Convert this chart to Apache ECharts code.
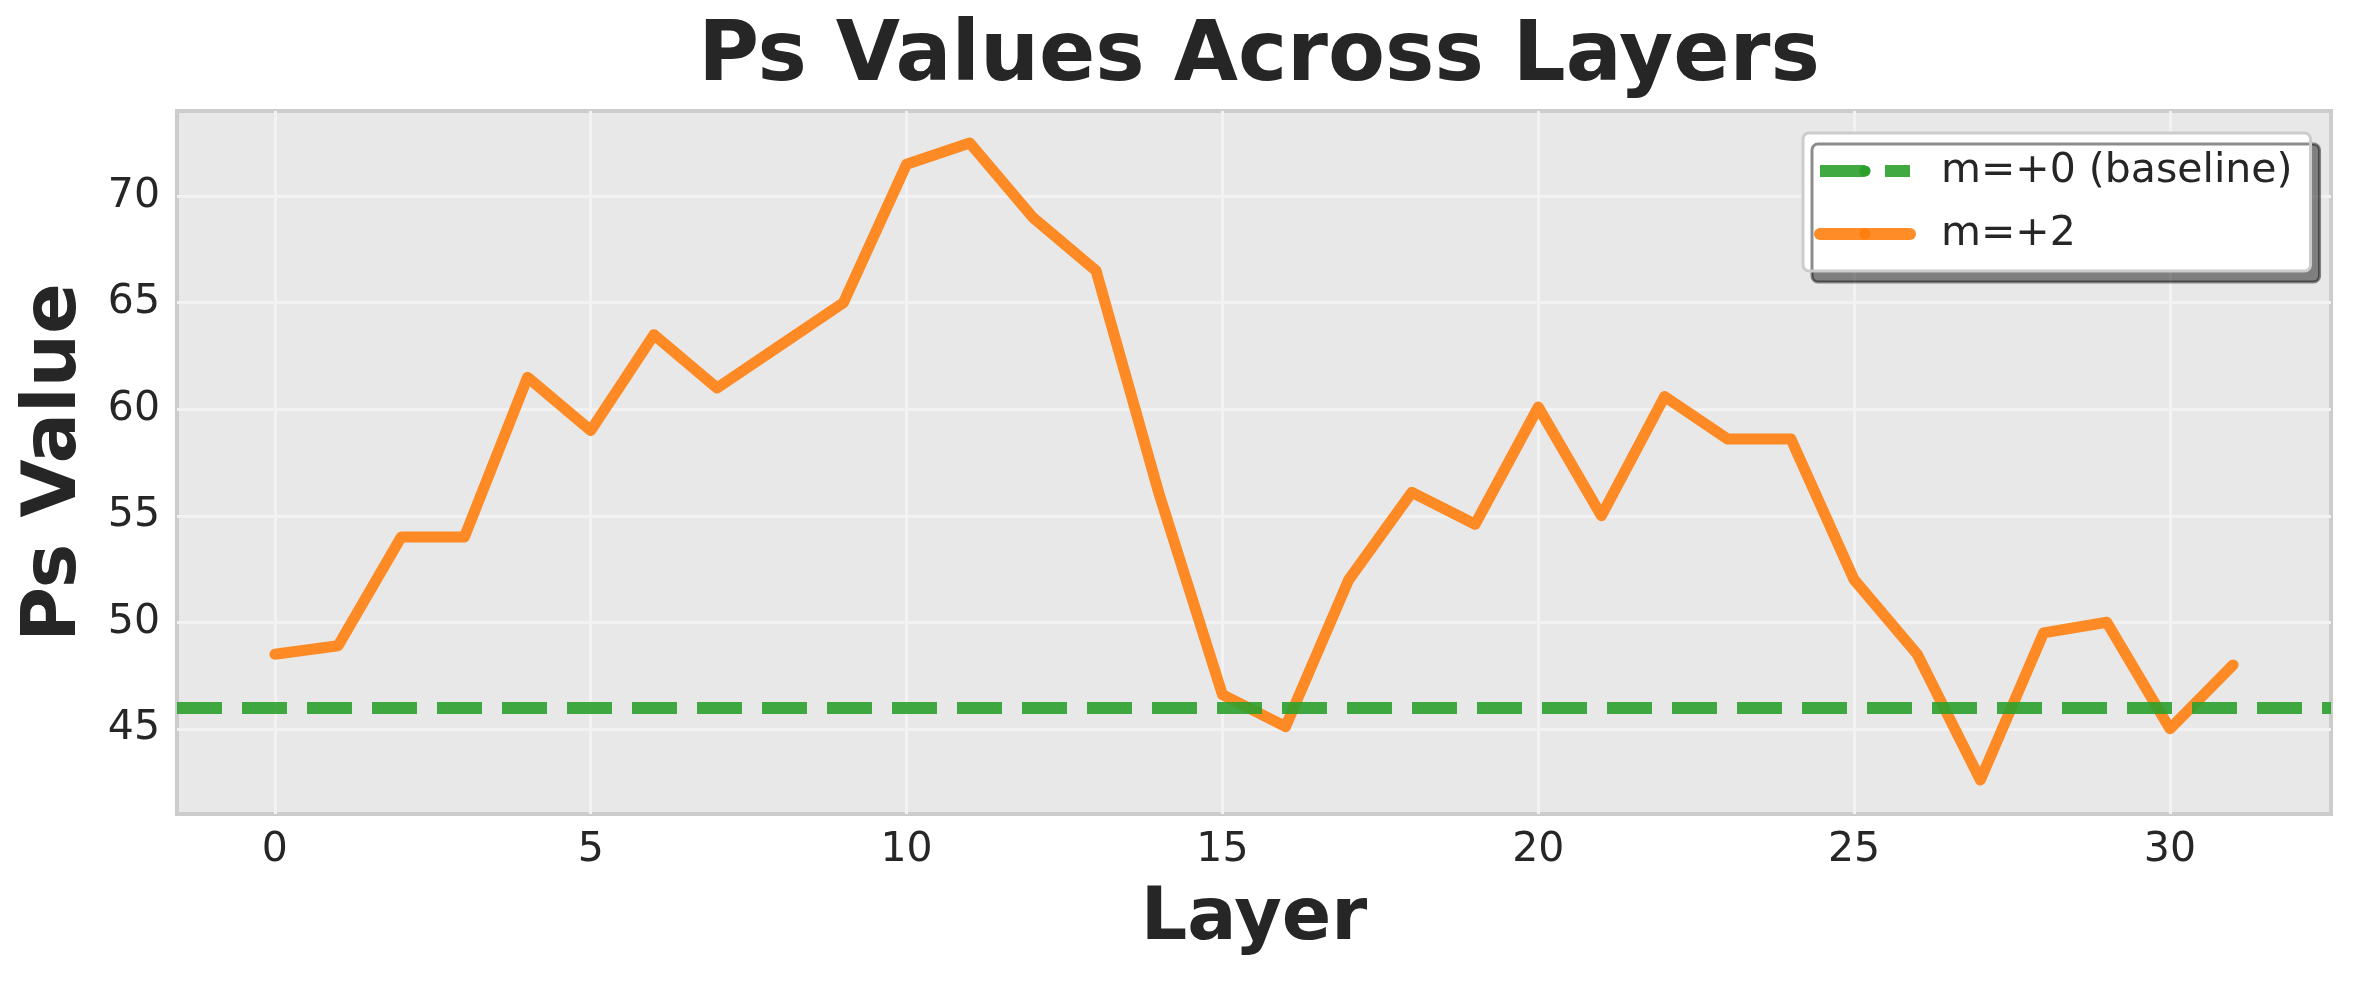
<!DOCTYPE html>
<html>
<head>
<meta charset="utf-8">
<script src="https://cdn.jsdelivr.net/npm/echarts@6/dist/echarts.min.js"></script>
<style>
html, body { margin: 0; padding: 0; background: #fff; }
#main { width: 2355px; height: 986px; }
</style>
</head>
<body>
<div id="main"></div>
<script>
// values
var layers = [0, 1, 2, 3, 4, 5, 6, 7, 8, 9, 10, 11, 12, 13, 14, 15,
	16, 17, 18, 19, 20, 21, 22, 23, 24, 25, 26, 27, 28, 29, 30, 31];
var psValues = [48.5, 48.9, 54.0, 54.0, 61.5, 59.0, 63.5, 61.0, 63.0, 65.0, 71.5, 72.5, 69.0, 66.5, 56.0, 46.6,
	45.1, 52.0, 56.1, 54.6, 60.1, 55.0, 60.6, 58.6, 58.6, 52.0, 48.5, 42.6, 49.5, 50.0, 45.0, 48.0];
var baselineValue = 46.0;
var xTicks = [0, 5, 10, 15, 20, 25, 30];
var yTicks = [45, 50, 55, 60, 65, 70];
var seriesNames = ['m=+0 (baseline)', 'm=+2'];

var chart = echarts.init(document.getElementById('main'));
var textColor = '#262626';
var font = 'DejaVu Sans';

var lineData = [];
for (var i = 0; i < layers.length; i++) {
	lineData.push([layers[i], psValues[i]]);
}

var option = {
	backgroundColor: '#ffffff',
	animation: false,
	title: {
		text: 'Ps Values Across Layers',
		left: 1254,
		top: 12,
		textAlign: 'center',
		textStyle: {
			fontFamily: font,
			fontWeight: 'bold',
			fontSize: 83,
			color: textColor
		}
	},
	legend: {
		orient: 'vertical',
		left: 1803,
		top: 133,
		padding: [16, 18, 15, 11],
		itemGap: 19,
		itemWidth: 90,
		itemHeight: 14,
		backgroundColor: '#ffffff',
		borderColor: '#cccccc',
		borderWidth: 3,
		borderRadius: 6,
		shadowColor: 'rgba(0,0,0,0.45)',
		shadowOffsetX: 9,
		shadowOffsetY: 11,
		shadowBlur: 0,
		formatter: function (name) {
			return '  ' + name;
		},
		textStyle: {
			fontFamily: font,
			fontSize: 41,
			color: textColor,
			lineHeight: 44
		},
		data: [
			{
				name: seriesNames[0],
				lineStyle: { width: 12, type: [45, 20], color: '#2ca02c', opacity: 0.9 }
			},
			{
				name: seriesNames[1],
				lineStyle: { width: 12, color: '#ff7f0e', opacity: 0.9, cap: 'round' }
			}
		]
	},
	grid: {
		left: 177,
		right: 24,
		top: 111,
		bottom: 172,
		show: true,
		backgroundColor: '#e8e8e8',
		borderColor: '#cccccc',
		borderWidth: 4
	},
	xAxis: {
		type: 'value',
		min: -1.55,
		max: 32.55,
		name: 'Layer',
		nameLocation: 'middle',
		nameGap: 70,
		nameTextStyle: { fontFamily: font, fontWeight: 'bold', fontSize: 73, color: textColor },
		axisLine: { show: false },
		axisTick: { show: false, customValues: xTicks },
		axisLabel: {
			customValues: xTicks,
			margin: 16,
			fontFamily: font,
			fontSize: 41,
			color: textColor
		},
		splitLine: { show: true, lineStyle: { color: '#f2f2f2', width: 3 } }
	},
	yAxis: {
		type: 'value',
		min: 41,
		max: 74,
		name: 'Ps Value',
		nameLocation: 'middle',
		nameRotate: 90,
		nameGap: 84,
		nameTextStyle: { fontFamily: font, fontWeight: 'bold', fontSize: 75, color: textColor },
		axisLine: { show: false },
		axisTick: { show: false, customValues: yTicks },
		axisLabel: {
			customValues: yTicks,
			margin: 17,
			fontFamily: font,
			fontSize: 41,
			color: textColor
		},
		splitLine: { show: true, lineStyle: { color: '#f2f2f2', width: 3 } }
	},
	series: [
		{
			name: seriesNames[0],
			type: 'line',
			data: [],
			symbol: 'none',
			z: 2,
			lineStyle: { color: '#2ca02c', width: 12, type: [45, 20], opacity: 0.9 },
			itemStyle: { color: '#2ca02c' },
			markLine: {
				silent: true,
				symbol: ['none', 'none'],
				label: { show: false },
				lineStyle: { color: '#2ca02c', width: 12, type: [45, 20], opacity: 0.9 },
				data: [{ yAxis: baselineValue }]
			}
		},
		{
			name: seriesNames[1],
			type: 'line',
			data: lineData,
			symbol: 'none',
			z: 3,
			lineStyle: { color: '#ff7f0e', width: 11, opacity: 0.9, cap: 'round', join: 'round' },
			itemStyle: { color: '#ff7f0e' }
		}
	]
};

chart.setOption(option);
</script>
</body>
</html>
